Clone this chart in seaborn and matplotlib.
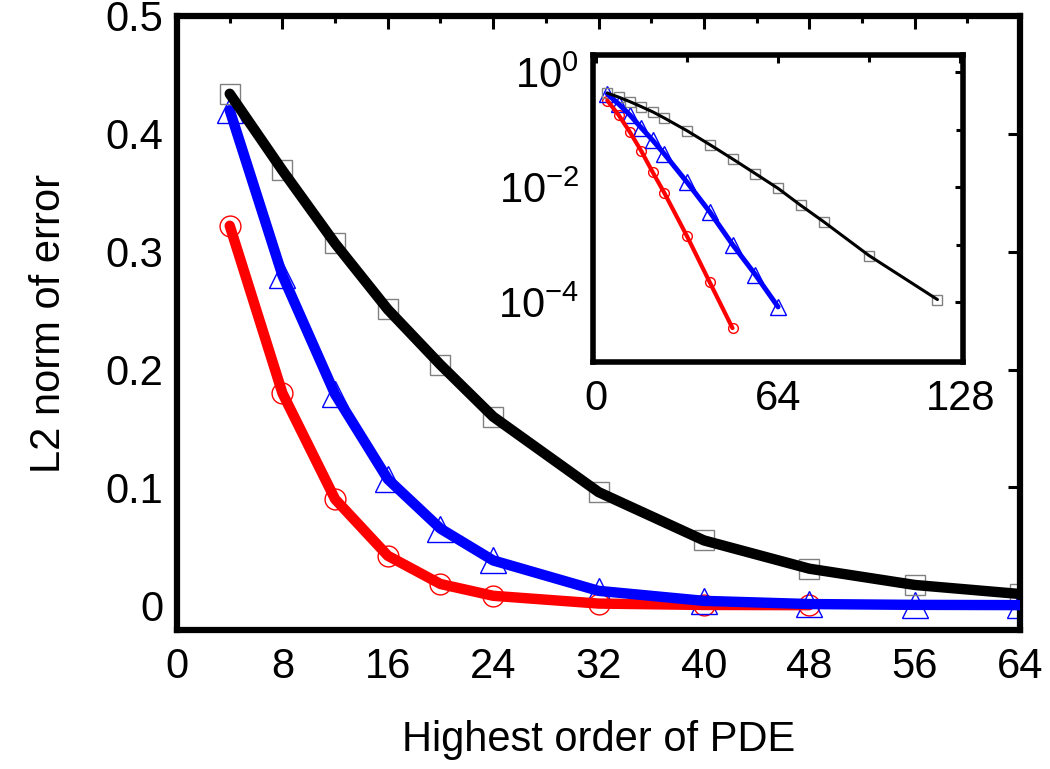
import numpy as np
import pandas as pd
import seaborn as sns
import matplotlib
matplotlib.use("Agg")
import matplotlib.pyplot as plt
from matplotlib.ticker import FixedLocator, NullFormatter, FixedFormatter

# orders of the PDE (x values)
orders_long = [4, 8, 12, 16, 20, 24, 32, 40, 48, 56, 64, 72, 80, 96, 120]
orders_mid = [4, 8, 12, 16, 20, 24, 32, 40, 48, 56, 64]
orders_short = [4, 8, 12, 16, 20, 24, 32, 40, 48]

# L2 error of each series
err_black = [0.434, 0.369, 0.307, 0.251, 0.204, 0.160, 0.096, 0.055, 0.031,
             0.0172, 0.0095, 0.0048, 0.0025, 0.00064, 0.00011]
err_blue = [0.420, 0.280, 0.179, 0.107, 0.065, 0.038, 0.0122, 0.0037,
            0.0010, 0.00030, 0.000082]
err_red = [0.322, 0.180, 0.090, 0.042, 0.018, 0.0080, 0.0014, 0.00022,
           0.000035]

main_xticks = [0, 8, 16, 24, 32, 40, 48, 56, 64]
main_yticks = [0, 0.1, 0.2, 0.3, 0.4, 0.5]
main_ytick_labels = ["0", "0.1", "0.2", "0.3", "0.4", "0.5"]
inset_xticks = [0, 64, 128]
inset_yticks = [1e0, 1e-2, 1e-4]
inset_ytick_labels = [r"$\mathregular{10^{0}}$", r"$\mathregular{10^{-2}}$",
                      r"$\mathregular{10^{-4}}$"]

df_black = pd.DataFrame({"order": orders_long, "err": err_black})
df_blue = pd.DataFrame({"order": orders_mid, "err": err_blue})
df_red = pd.DataFrame({"order": orders_short, "err": err_red})

sns.set_theme(style="white")
plt.rcParams["font.family"] = ["Liberation Sans", "DejaVu Sans"]
plt.rcParams["mathtext.fontset"] = "custom"
plt.rcParams["mathtext.rm"] = "Liberation Sans"
for key in ["text.color", "axes.labelcolor", "xtick.color", "ytick.color"]:
    plt.rcParams[key] = "black"

fig = plt.figure(figsize=(10.5, 7.69), dpi=100)
ax = fig.add_axes([0.1686, 0.1808, 0.8029, 0.7984])
axin = fig.add_axes([0.5648, 0.5293, 0.3524, 0.3992])

# series: (frame, line colour, marker, marker edge colour, main ms, inset ms, inset lw)
series = [
    (df_red, "#ff0000", "o", "#ff0000", 15, 7, 3.0),
    (df_blue, "#0000ff", "^", "#0000ff", 19, 11, 3.6),
    (df_black, "#000000", "s", "#808080", 15, 7.5, 2.2),
]

for d, col, mk, mec, ms_main, ms_in, lw_in in series:
    dm = d[d["order"] <= 64]
    ax.plot(dm["order"], dm["err"], linestyle="none", marker=mk, ms=ms_main,
            mfc="none", mec=mec, mew=1.0, zorder=2)
    sns.lineplot(data=dm, x="order", y="err", ax=ax, color=col, linewidth=7.5,
                 zorder=3, legend=False)
    axin.plot(d["order"], d["err"], linestyle="none", marker=mk, ms=ms_in,
              mfc="none", mec=mec, mew=1.0, zorder=2)
    sns.lineplot(data=d, x="order", y="err", ax=axin, color=col,
                 linewidth=lw_in, zorder=3, legend=False)

# main axes
ax.set_xlim(0, 64)
ax.set_ylim(-0.021, 0.5)
ax.xaxis.set_major_locator(FixedLocator(main_xticks))
ax.xaxis.set_minor_locator(FixedLocator([4, 12, 20, 28, 36, 44, 52, 60]))
ax.yaxis.set_major_locator(FixedLocator(main_yticks))
ax.yaxis.set_major_formatter(FixedFormatter(main_ytick_labels))
ax.tick_params(axis="both", which="major", direction="in", length=9,
               width=2.2, labelsize=30, top=True, right=True)
ax.tick_params(axis="both", which="minor", direction="in", length=5,
               width=2.2, top=True, right=True)
ax.tick_params(axis="x", which="major", pad=12)
ax.tick_params(axis="y", which="major", pad=10)
ax.set_xlabel("Highest order of PDE", fontsize=30, labelpad=24)
ax.set_ylabel("L2 norm of error", fontsize=30, labelpad=26)
for sp in ax.spines.values():
    sp.set_linewidth(4.5)
    sp.set_color("black")

# inset axes
axin.set_yscale("log")
axin.set_xlim(-1, 129)
axin.set_ylim(9e-6, 2.0)
axin.xaxis.set_major_locator(FixedLocator(inset_xticks))
axin.xaxis.set_minor_locator(FixedLocator([32, 96]))
axin.yaxis.set_major_locator(FixedLocator(inset_yticks))
axin.yaxis.set_major_formatter(FixedFormatter(inset_ytick_labels))
axin.yaxis.set_minor_locator(FixedLocator([1e-1, 1e-3]))
axin.yaxis.set_minor_formatter(NullFormatter())
axin.tick_params(axis="both", which="major", direction="in", length=6,
                 width=2.2, labelsize=30, top=True, right=True)
axin.tick_params(axis="both", which="minor", direction="in", length=5,
                 width=2.2, top=True, right=True)
axin.tick_params(axis="x", which="major", pad=12)
axin.tick_params(axis="y", which="major", pad=10)
axin.set_xlabel("")
axin.set_ylabel("")
for sp in axin.spines.values():
    sp.set_linewidth(4.0)
    sp.set_color("black")

fig.savefig("out.png", dpi=100)
